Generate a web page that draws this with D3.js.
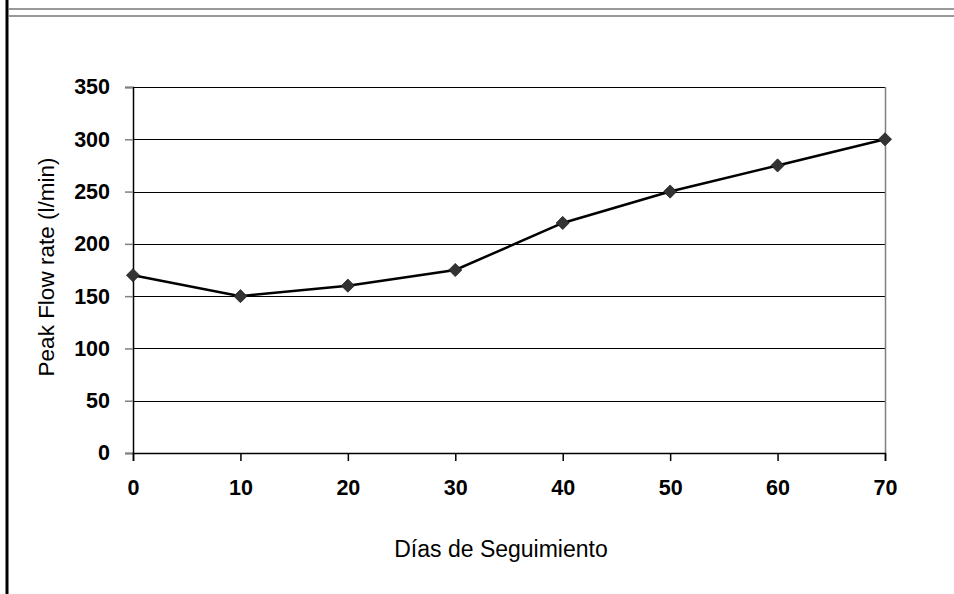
<!DOCTYPE html>
<html>
<head>
<meta charset="utf-8">
<script src="https://cdn.jsdelivr.net/npm/d3@7"></script>
<style>
  body { margin: 0; background: #fff; }
  svg { display: block; font-family: "Liberation Sans", Arial, sans-serif; }
</style>
</head>
<body>
<div id="chart"></div>
<script>
// data
const days = [0, 10, 20, 30, 40, 50, 60, 70];
const peakFlow = [170, 150, 160, 175, 220, 250, 275, 300];
const yTicks = [0, 50, 100, 150, 200, 250, 300, 350];
const xTicks = [0, 10, 20, 30, 40, 50, 60, 70];

const W = 954, H = 594;
const margin = {top: 87, right: 69, bottom: 141, left: 133};
const width = W - margin.left - margin.right;
const height = H - margin.top - margin.bottom;

const svg = d3.select("#chart").append("svg")
    .attr("width", W)
    .attr("height", H);

// frame lines of the page
svg.append("line")
    .attr("x1", 7).attr("x2", 7).attr("y1", 0).attr("y2", H)
    .attr("stroke", "#000").attr("stroke-width", 3);
svg.append("line")
    .attr("x1", 8).attr("x2", W).attr("y1", 9).attr("y2", 9)
    .attr("stroke", "#777").attr("stroke-width", 1.5);
svg.append("line")
    .attr("x1", 8).attr("x2", W).attr("y1", 16).attr("y2", 16)
    .attr("stroke", "#777").attr("stroke-width", 1.5);

const g = svg.append("g")
    .attr("transform", "translate(" + margin.left + "," + margin.top + ")");

const x = d3.scaleLinear().domain([0, 70]).range([0, width]);
const y = d3.scaleLinear().domain([0, 350]).range([height, 0]);

// horizontal gridlines
g.selectAll(".grid")
    .data(yTicks.filter(d => d > 0))
    .enter().append("line")
    .attr("class", "grid")
    .attr("x1", 0).attr("x2", width)
    .attr("y1", d => Math.round(y(d)) + 0.5)
    .attr("y2", d => Math.round(y(d)) + 0.5)
    .attr("stroke", "#000").attr("stroke-width", 1);

// right border
g.append("line")
    .attr("x1", width + 0.5).attr("x2", width + 0.5)
    .attr("y1", 0).attr("y2", height)
    .attr("stroke", "#808080").attr("stroke-width", 1.5);

// y axis
const yAxis = d3.axisLeft(y).tickValues(yTicks).tickSize(8).tickPadding(15);
const yG = g.append("g").call(yAxis);
yG.select(".domain").attr("stroke", "#000").attr("stroke-width", 1.5);
yG.selectAll(".tick line").attr("stroke", "#808080").attr("stroke-width", 1.5);
yG.selectAll(".tick text")
    .attr("font-size", 21.5).attr("font-weight", "bold").attr("fill", "#000")
    .attr("font-family", "Liberation Sans, Arial, sans-serif");

// x axis
const xAxis = d3.axisBottom(x).tickValues(xTicks).tickSize(8).tickPadding(19);
const xG = g.append("g")
    .attr("transform", "translate(0," + height + ")")
    .call(xAxis);
xG.select(".domain").attr("stroke", "#000").attr("stroke-width", 1.5);
xG.selectAll(".tick line").attr("stroke", "#000").attr("stroke-width", 1.5);
xG.selectAll(".tick text")
    .attr("font-size", 21.5).attr("font-weight", "bold").attr("fill", "#000")
    .attr("font-family", "Liberation Sans, Arial, sans-serif");

// line + markers
const line = d3.line()
    .x((d, i) => x(days[i]))
    .y(d => y(d));

g.append("path")
    .datum(peakFlow)
    .attr("d", line)
    .attr("fill", "none")
    .attr("stroke", "#000")
    .attr("stroke-width", 2.5);

g.selectAll(".marker")
    .data(peakFlow)
    .enter().append("path")
    .attr("class", "marker")
    .attr("d", d3.symbol().type(d3.symbolDiamond2).size(110))
    .attr("transform", (d, i) => "translate(" + x(days[i]) + "," + y(d) + ")")
    .attr("fill", "#333")
    .attr("stroke", "#222")
    .attr("stroke-width", 0.8);

// axis titles
svg.append("text")
    .attr("x", 501)
    .attr("y", 557)
    .attr("text-anchor", "middle")
    .attr("font-size", 23)
    .text("Días de Seguimiento");

svg.append("text")
    .attr("transform", "translate(54," + 267 + ") rotate(-90)")
    .attr("text-anchor", "middle")
    .attr("font-size", 22.5)
    .text("Peak Flow rate (l/min)");
</script>
</body>
</html>
